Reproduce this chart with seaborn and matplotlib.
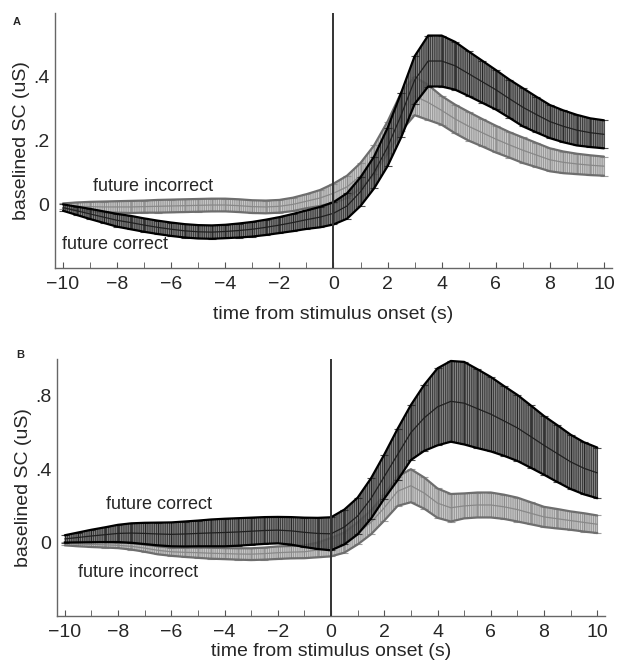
import numpy as np
import pandas as pd
import matplotlib
matplotlib.use("Agg")
import matplotlib.pyplot as plt
import seaborn as sns

# time axis (s), sampled every 0.5 s
time_s = [-10, -9.5, -9, -8.5, -8, -7.5, -7, -6.5, -6, -5.5, -5, -4.5, -4, -3.5, -3, -2.5, -2, -1.5, -1, -0.5,
          0, 0.5, 1, 1.5, 2, 2.5, 3, 3.5, 4, 4.5, 5, 5.5, 6, 6.5, 7, 7.5, 8, 8.5, 9, 9.5, 10]

# panel A
a_correct_mean = [-0.01, -0.02, -0.03, -0.04, -0.05, -0.057, -0.065, -0.072, -0.078, -0.083, -0.086, -0.087,
                  -0.085, -0.082, -0.078, -0.072, -0.065, -0.057, -0.048, -0.04, -0.028, -0.005, 0.04, 0.1,
                  0.18, 0.28, 0.39, 0.45, 0.45, 0.435, 0.41, 0.385, 0.36, 0.332, 0.305, 0.282, 0.26, 0.245,
                  0.233, 0.225, 0.22]
a_correct_sem = [0.01, 0.013, 0.016, 0.018, 0.02, 0.021, 0.021, 0.021, 0.021, 0.021, 0.021, 0.021, 0.021,
                 0.022, 0.023, 0.024, 0.025, 0.027, 0.029, 0.032, 0.035, 0.04, 0.045, 0.05, 0.06, 0.07, 0.075,
                 0.08, 0.08, 0.075, 0.07, 0.066, 0.062, 0.06, 0.06, 0.056, 0.052, 0.05, 0.048, 0.045, 0.044]
a_incorrect_mean = [-0.005, -0.006, -0.007, -0.008, -0.008, -0.008, -0.007, -0.006, -0.005, -0.004, -0.003,
                    -0.002, -0.002, -0.004, -0.007, -0.008, -0.006, 0.0, 0.01, 0.02, 0.035, 0.055, 0.09, 0.14,
                    0.21, 0.29, 0.34, 0.32, 0.295, 0.268, 0.245, 0.225, 0.205, 0.187, 0.17, 0.155, 0.14, 0.132,
                    0.127, 0.123, 0.12]
a_incorrect_sem = [0.008, 0.012, 0.015, 0.017, 0.018, 0.019, 0.019, 0.02, 0.02, 0.02, 0.02, 0.02, 0.02, 0.02,
                   0.02, 0.02, 0.02, 0.021, 0.022, 0.025, 0.03, 0.035, 0.04, 0.045, 0.05, 0.06, 0.06, 0.055,
                   0.045, 0.045, 0.045, 0.043, 0.042, 0.04, 0.04, 0.038, 0.036, 0.034, 0.032, 0.031, 0.03]

# panel B
b_correct_mean = [0.02, 0.028, 0.036, 0.043, 0.05, 0.052, 0.05, 0.047, 0.045, 0.047, 0.05, 0.053, 0.055,
                  0.058, 0.062, 0.066, 0.068, 0.064, 0.056, 0.05, 0.048, 0.085, 0.145, 0.24, 0.36, 0.48, 0.6,
                  0.68, 0.74, 0.77, 0.76, 0.73, 0.7, 0.663, 0.625, 0.578, 0.53, 0.485, 0.44, 0.405, 0.38]
b_correct_sem = [0.02, 0.027, 0.034, 0.04, 0.047, 0.053, 0.058, 0.062, 0.065, 0.068, 0.07, 0.073, 0.075, 0.075,
                 0.074, 0.073, 0.072, 0.075, 0.08, 0.085, 0.09, 0.095, 0.1, 0.11, 0.12, 0.14, 0.15, 0.18, 0.21,
                 0.22, 0.225, 0.215, 0.203, 0.19, 0.18, 0.17, 0.16, 0.155, 0.148, 0.142, 0.138]
b_incorrect_mean = [-0.005, -0.008, -0.01, -0.012, -0.015, -0.02, -0.03, -0.042, -0.05, -0.053, -0.055,
                    -0.058, -0.06, -0.062, -0.063, -0.06, -0.055, -0.052, -0.05, -0.04, -0.025, 0.0, 0.05,
                    0.11, 0.19, 0.28, 0.31, 0.27, 0.215, 0.19, 0.2, 0.205, 0.205, 0.195, 0.18, 0.16, 0.14,
                    0.13, 0.12, 0.11, 0.1]
b_incorrect_sem = [0.01, 0.012, 0.014, 0.015, 0.015, 0.018, 0.02, 0.022, 0.022, 0.025, 0.028, 0.03, 0.03,
                   0.031, 0.032, 0.033, 0.034, 0.034, 0.035, 0.04, 0.05, 0.055, 0.06, 0.065, 0.07, 0.08, 0.09,
                   0.085, 0.08, 0.075, 0.068, 0.068, 0.068, 0.066, 0.065, 0.06, 0.055, 0.053, 0.05, 0.05, 0.048]

sns.set_style("ticks")
plt.rcParams['font.family'] = ['Liberation Sans', 'DejaVu Sans']
plt.rcParams['hatch.linewidth'] = 0.6


def draw_band(ax, t, mean, sem, dark):
	mean = np.array(mean)
	sem = np.array(sem)
	lo, hi = mean - sem, mean + sem
	if dark:
		fill, bar, edge, z = "#747474", "#202020", "#000000", 3
	else:
		fill, bar, edge, z = "#c4c4c4", "#888888", "#6e6e6e", 2
	# vertical hatching to mimic the dense error-bar texture
	ax.fill_between(t, lo, hi, facecolor=fill, edgecolor=bar, hatch="|" * 9, alpha=0.85, lw=0, zorder=z)
	ax.errorbar(t, mean, yerr=sem, fmt="none", ecolor=bar, elinewidth=0.8, capsize=3,
	            capthick=0.8, alpha=0.8, zorder=z)
	ax.plot(t, lo, color=edge, lw=1.6, zorder=z)
	ax.plot(t, hi, color=edge, lw=1.6, zorder=z)
	df = pd.DataFrame({"t": t, "v": mean})
	sns.lineplot(data=df, x="t", y="v", ax=ax, color=bar, lw=0.9, zorder=z)


fig = plt.figure(figsize=(6.17, 6.62), dpi=100)
ax_a = fig.add_axes([0.089, 0.595, 0.903, 0.385])
ax_b = fig.add_axes([0.092, 0.0695, 0.889, 0.388])

panels = [
	(ax_a, a_incorrect_mean, a_incorrect_sem, a_correct_mean, a_correct_sem, (-0.2, 0.6), [0, 0.2, 0.4], ["0", ".2", ".4"], 9),
	(ax_b, b_incorrect_mean, b_incorrect_sem, b_correct_mean, b_correct_sem, (-0.4, 1.0), [0, 0.4, 0.8], ["0", ".4", ".8"], 1),
]

for ax, im, isem, cm, csem, ylim, yt, ytl, xpad in panels:
	draw_band(ax, time_s, im, isem, dark=False)
	draw_band(ax, time_s, cm, csem, dark=True)
	ax.axvline(0, color="#333333", lw=1.4, zorder=4)
	ax.set_xlim(-10.3, 10.3)
	ax.set_ylim(*ylim)
	ax.set_xticks(range(-10, 11, 2))
	ax.set_xticklabels([str(v).replace("-", "\u2212") for v in range(-10, 11, 2)])
	ax.set_xticks(range(-9, 10, 2), minor=True)
	ax.set_yticks(yt)
	ax.set_yticklabels(ytl)
	ax.tick_params(axis="x", which="both", direction="in", length=4, color="#555555", labelsize=14, pad=6)
	ax.tick_params(axis="y", direction="in", length=0, labelsize=14, pad=4)
	for s in ["top", "right"]:
		ax.spines[s].set_visible(False)
	for s in ["left", "bottom"]:
		ax.spines[s].set_color("#666666")
		ax.spines[s].set_linewidth(1.0)
	ax.set_xlabel("time from stimulus onset (s)", fontsize=14, labelpad=xpad)
	ax.set_ylabel("baselined SC (uS)", fontsize=14, labelpad=2)

ax_a.text(-8.9, 0.056, "future incorrect", fontsize=13, va="center", ha="left")
ax_a.text(-10.05, -0.125, "future correct", fontsize=13, va="center", ha="left")
ax_b.text(-8.45, 0.21, "future correct", fontsize=13, va="center", ha="left")
ax_b.text(-9.5, -0.163, "future incorrect", fontsize=13, va="center", ha="left")

fig.text(0.021, 0.967, "A", fontsize=8, fontweight="bold", va="center")
fig.text(0.027, 0.464, "B", fontsize=8, fontweight="bold", va="center")

fig.savefig("out.png", dpi=100)
